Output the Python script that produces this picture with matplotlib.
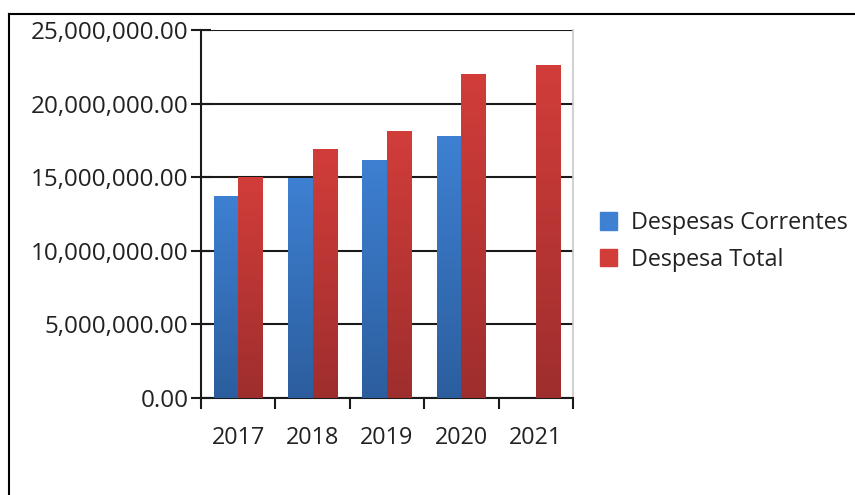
import numpy as np
import matplotlib.pyplot as plt
from matplotlib.colors import LinearSegmentedColormap
from matplotlib.ticker import FuncFormatter
from matplotlib.lines import Line2D

years = ["2017", "2018", "2019", "2020", "2021"]
despesas_correntes = [13.72e6, 14.95e6, 16.17e6, 17.80e6, np.nan]
despesa_total = [15.00e6, 16.90e6, 18.14e6, 22.03e6, 22.64e6]
series_names = ["Despesas Correntes", "Despesa Total"]

plt.rcParams["font.family"] = ["Open Sans", "DejaVu Sans"]

BLUE_TOP, BLUE_BOT = "#3E80D2", "#2C5E9E"
RED_TOP, RED_BOT = "#D23D3A", "#9E2E2D"


def gradient_bars(ax, bars, top, bottom):
    cmap = LinearSegmentedColormap.from_list("g", [bottom, top])
    grad = np.linspace(0, 1, 256).reshape(-1, 1)
    for bar in bars:
        x, y = bar.get_x(), bar.get_y()
        w, h = bar.get_width(), bar.get_height()
        if not np.isfinite(h) or h == 0:
            continue
        im = ax.imshow(grad, cmap=cmap, aspect="auto", origin="lower",
                       extent=[x, x + w, y, y + h], zorder=3)
        im.set_clip_path(bar)
        bar.set_facecolor("none")


fig = plt.figure(figsize=(8.55, 4.95), dpi=100)
ax = fig.add_axes([0.2351, 0.196, 0.4351, 0.7434])

x = np.arange(len(years))
w = 0.33
b1 = ax.bar(x - w / 2, despesas_correntes, w, color=BLUE_TOP, linewidth=0, zorder=3)
b2 = ax.bar(x + w / 2, despesa_total, w, color=RED_TOP, linewidth=0, zorder=3)
gradient_bars(ax, b1, BLUE_TOP, BLUE_BOT)
gradient_bars(ax, b2, RED_TOP, RED_BOT)

ax.set_xlim(-0.5, len(years) - 0.5)
ax.set_ylim(0, 25e6)
ax.set_yticks(np.arange(0, 25e6 + 1, 5e6))
ax.yaxis.set_major_formatter(FuncFormatter(lambda v, _: f"{v:,.2f}"))
ax.yaxis.grid(True, color="#1a1a1a", linewidth=1.5, zorder=0)
ax.set_axisbelow(True)

ax.set_xticks(np.arange(len(years) + 1) - 0.5)
ax.set_xticklabels([])
ax.set_xticks(x, minor=True)
ax.set_xticklabels(years, minor=True, fontsize=16.8, color="#222222")
ax.tick_params(axis="x", which="minor", length=0, pad=20)
ax.tick_params(axis="x", which="major", direction="out", length=8, width=1.5, color="#1a1a1a")
ax.tick_params(axis="y", direction="inout", length=14, width=1.5, color="#1a1a1a",
               labelsize=17.5, labelcolor="#222222", pad=2)

for side in ["left", "bottom"]:
    ax.spines[side].set_color("#1a1a1a")
    ax.spines[side].set_linewidth(1.5)
ax.spines["top"].set_visible(False)
ax.spines["right"].set_color("#c8c8c8")
ax.spines["right"].set_linewidth(1.2)

handles = [plt.Rectangle((0, 0), 1, 1, color=BLUE_TOP), plt.Rectangle((0, 0), 1, 1, color=RED_TOP)]
fig.legend(handles, series_names, loc="center left", bbox_to_anchor=(0.677, 0.512),
           frameon=False, fontsize=16.8, handlelength=0.75, handleheight=0.75,
           handletextpad=0.6, labelspacing=0.55, labelcolor="#222222")

# outer frame
fig.add_artist(Line2D([0.0105, 1.0], [1 - 14 / 495, 1 - 14 / 495], color="black", lw=1.5,
                      transform=fig.transFigure))
fig.add_artist(Line2D([0.0105, 0.0105], [0.0, 1 - 14 / 495], color="black", lw=1.5,
                      transform=fig.transFigure))

fig.savefig("out.png", dpi=100)
